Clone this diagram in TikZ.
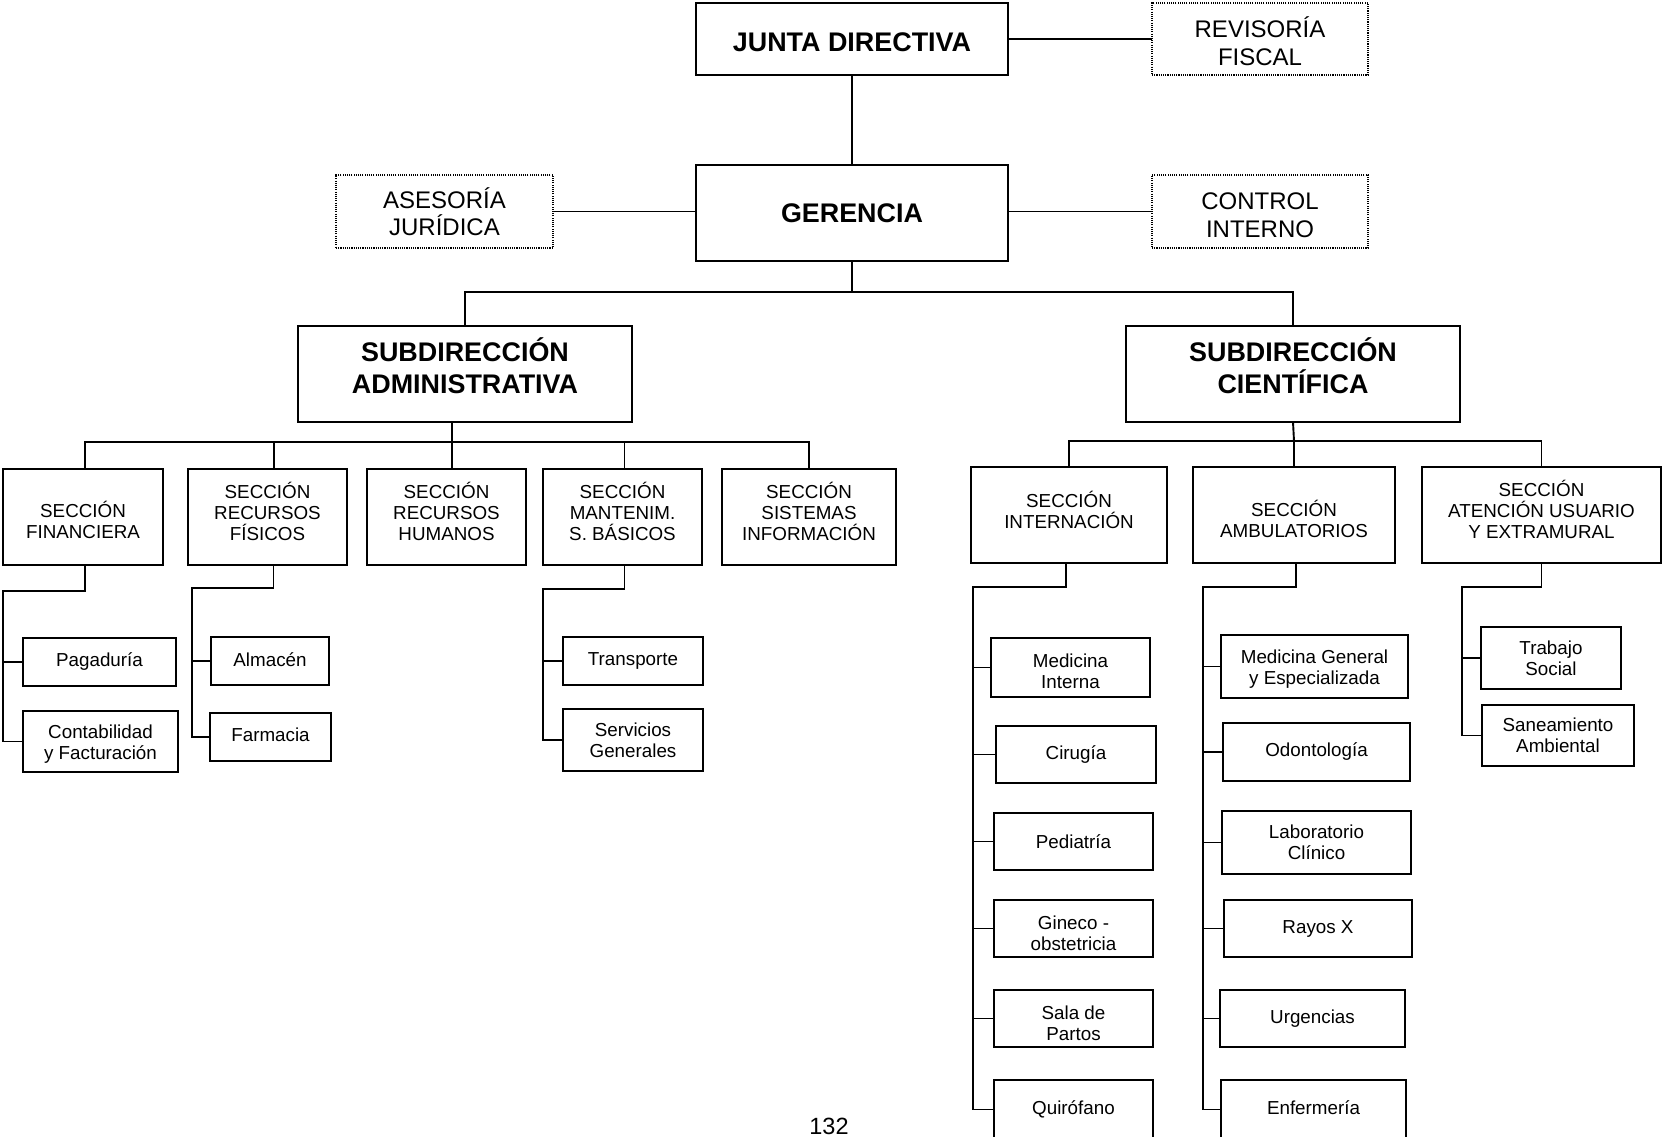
\documentclass[tikz,border=0pt]{standalone}
\usepackage{fontspec}
\setmainfont{Liberation Sans}
\usetikzlibrary{calc}
\newcommand\bx[7]{\node[#6, anchor=north west, minimum width={(#4-#2)*1pt}, minimum height={(#5-#3)*1pt}] (#1) at (#2,#3) {#7};}
\tikzset{
  sbox/.style={draw, line width=1.9pt, inner sep=0pt, outer sep=0pt, align=center, font=\fontsize{18.8}{21}\selectfont},
  bbox/.style={sbox, font=\bfseries\fontsize{26.9}{32}\selectfont},
  dbox/.style={draw, line width=1.1pt, dash pattern=on 1.1pt off 1.1pt, inner sep=0pt, outer sep=0pt, align=center, font=\fontsize{24}{27.5}\selectfont},
  conn/.style={line width=1.9pt, line join=miter},
}
\begin{document}
\begin{tikzpicture}[x=1pt, y=-1pt]
\useasboundingbox (0,0) rectangle (1663,1137);
% top level
\bx{jd}{696}{3}{1008}{75}{bbox,text height=25pt}{JUNTA DIRECTIVA}
\bx{rv}{1152}{3}{1368}{75}{dbox,text height=53pt}{REVISORÍA\\FISCAL}
\bx{ger}{696}{165}{1008}{261}{bbox}{GERENCIA}
\bx{as}{336}{175}{553}{248}{dbox}{ASESORÍA\\JURÍDICA}
\bx{ci}{1152}{175}{1368}{248}{dbox,text height=51.4pt}{CONTROL\\INTERNO}
\bx{sa}{298}{326}{632}{422}{bbox,text depth=17pt}{SUBDIRECCIÓN\\ADMINISTRATIVA}
\bx{sc}{1126}{326}{1460}{422}{bbox,text depth=17pt}{SUBDIRECCIÓN\\CIENTÍFICA}
% administrative sections
\bx{fin}{3}{469}{163}{565}{sbox,text height=43.5pt}{SECCIÓN\\FINANCIERA}
\bx{rf}{188}{469}{347}{565}{sbox,text depth=10.6pt}{SECCIÓN\\RECURSOS\\FÍSICOS}
\bx{rh}{367}{469}{526}{565}{sbox,text depth=10.6pt}{SECCIÓN\\RECURSOS\\HUMANOS}
\bx{mt}{543}{469}{702}{565}{sbox,text depth=10.6pt}{SECCIÓN\\MANTENIM.\\S. BÁSICOS}
\bx{si}{722}{469}{896}{565}{sbox,text depth=10.6pt}{SECCIÓN\\SISTEMAS\\INFORMACIÓN}
\bx{pag}{23}{638}{176}{686}{sbox}{Pagaduría}
\bx{con}{23}{711}{178}{772}{sbox,text height=40pt}{Contabilidad\\y Facturación}
\bx{alm}{211}{637}{329}{685}{sbox,text depth=3pt}{Almacén}
\bx{far}{210}{713}{331}{761}{sbox,text depth=4pt}{Farmacia}
\bx{tr}{563}{637}{703}{685}{sbox}{Transporte}
\bx{sg}{563}{709}{703}{771}{sbox}{Servicios\\Generales}
% scientific sections
\bx{int}{971}{467}{1167}{563}{sbox,text depth=9.5pt}{SECCIÓN\\INTERNACIÓN}
\bx{amb}{1193}{467}{1395}{563}{sbox,text height=45.6pt}{SECCIÓN\\AMBULATORIOS}
\bx{at}{1422}{467}{1661}{563}{sbox,text depth=11.7pt}{SECCIÓN\\ATENCIÓN USUARIO\\Y EXTRAMURAL}
\bx{mi}{991}{638}{1150}{697}{sbox,text height=41.4pt}{Medicina\\Interna}
\bx{cir}{996}{726}{1156}{783}{sbox}{Cirugía}
\bx{ped}{994}{813}{1153}{870}{sbox}{Pediatría}
\bx{gin}{994}{900}{1153}{957}{sbox,text height=43.5pt}{Gineco -\\obstetricia}
\bx{sp}{994}{990}{1153}{1047}{sbox,text height=43.5pt}{Sala de\\Partos}
\bx{qui}{994}{1080}{1153}{1139}{sbox}{Quirófano}
\bx{mg}{1221}{635}{1408}{698}{sbox,text height=40pt}{Medicina General\\y Especializada}
\bx{od}{1223}{723}{1410}{781}{sbox}{Odontología}
\bx{lab}{1222}{811}{1411}{874}{sbox}{Laboratorio\\Clínico}
\bx{rx}{1224}{900}{1412}{957}{sbox}{Rayos X}
\bx{urg}{1220}{990}{1405}{1047}{sbox}{Urgencias}
\bx{enf}{1221}{1080}{1406}{1139}{sbox,text depth=4pt}{Enfermería}
\bx{ts}{1481}{627}{1621}{689}{sbox}{Trabajo\\Social}
\bx{sam}{1482}{705}{1634}{766}{sbox}{Saneamiento\\Ambiental}
\node[font=\fontsize{23.5}{28}\selectfont, anchor=base, inner sep=0pt] (pn) at (829,1134) {132};
% top connectors
\draw[conn] (jd.east) -- (rv.west);
\draw[conn] (jd.south) -- (ger.north);
\draw[conn] (as.east) -- (ger.west |- as.east);
\draw[conn] (ger.east |- ci.west) -- (ci.west);
\coordinate (busG) at (852,292);
\draw[conn] (ger.south) -- (busG);
\draw[conn] (sa.north) |- (busG) -| (sc.north);
% administrative bus
\coordinate (busA) at (452,442);
\draw[conn] ([xshift=-13pt]sa.south) -- (busA);
\coordinate (finT) at ([xshift=2pt]fin.north);
\coordinate (rfT) at ([xshift=6.5pt]rf.north);
\coordinate (rhT) at ([xshift=5.5pt]rh.north);
\coordinate (mtT) at ([xshift=2pt]mt.north);
\draw[conn] (finT) |- (busA) -| (si.north);
\draw[conn] (rfT) -- (rfT |- busA);
\draw[conn] (rhT) -- (rhT |- busA);
\draw[conn] (mtT) -- (mtT |- busA);
% scientific bus
\coordinate (busB) at (1294,441);
\draw[conn] (sc.south) -- (busB);
\draw[conn] (int.north) |- (busB) -| (at.north);
\draw[conn] (amb.north) -- (amb.north |- busB);
% sub-trees
\coordinate (finA) at (3,591);
\draw[conn] ([xshift=2pt]fin.south) |- (finA) |- (con.west);
\draw[conn] (finA |- pag.west) -- (pag.west);
\coordinate (rfA) at (192,588);
\draw[conn] ([xshift=6pt]rf.south) |- (rfA) |- (far.west);
\draw[conn] (rfA |- alm.west) -- (alm.west);
\coordinate (mtA) at (543,589);
\draw[conn] ([xshift=2pt]mt.south) |- (mtA) |- (sg.west);
\draw[conn] (mtA |- tr.west) -- (tr.west);
\coordinate (inA) at (973,587);
\draw[conn] ([xshift=-3pt]int.south) |- (inA) |- (qui.west);
\foreach \n in {mi,cir,ped,gin,sp} \draw[conn] (inA |- \n.west) -- (\n.west);
\coordinate (amA) at (1203,587);
\draw[conn] ([xshift=2pt]amb.south) |- (amA) |- (enf.west);
\foreach \n in {mg,od,lab,rx,urg} \draw[conn] (amA |- \n.west) -- (\n.west);
\coordinate (atA) at (1462,587);
\draw[conn] (at.south) |- (atA) |- (sam.west);
\draw[conn] (atA |- ts.west) -- (ts.west);
\end{tikzpicture}
\end{document}
